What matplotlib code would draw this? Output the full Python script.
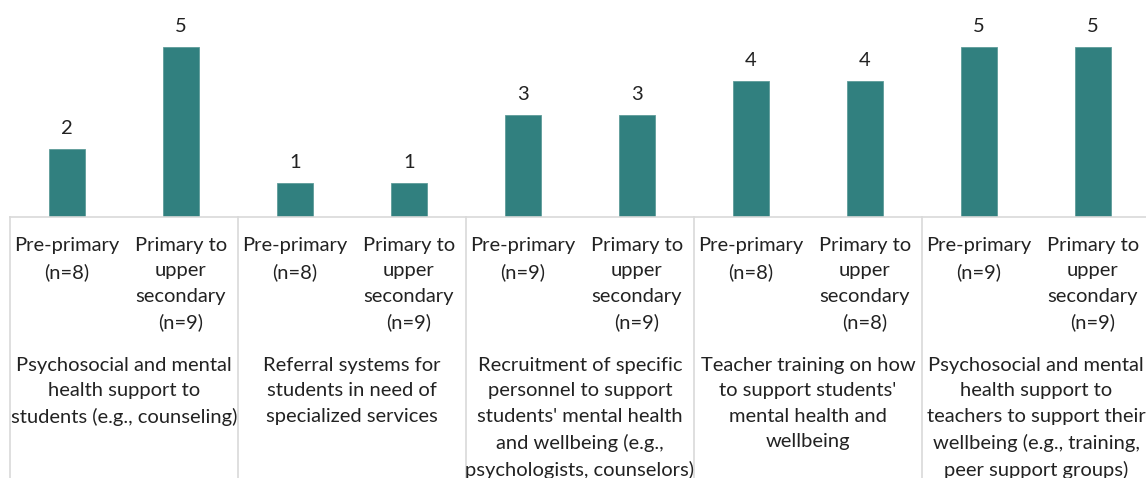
import matplotlib.pyplot as plt
from matplotlib import transforms

plt.rcParams["font.family"] = ["Lato", "DejaVu Sans"]

# categories and bar values
themes = [
    "Psychosocial and mental\nhealth support to\nstudents (e.g., counseling)",
    "Referral systems for\nstudents in need of\nspecialized services",
    "Recruitment of specific\npersonnel to support\nstudents' mental health\nand wellbeing (e.g.,\npsychologists, counselors)",
    "Teacher training on how\nto support students'\nmental health and\nwellbeing",
    "Psychosocial and mental\nhealth support to\nteachers to support their\nwellbeing (e.g., training,\npeer support groups)",
]
levels = [
    "Pre-primary\n(n=8)", "Primary to\nupper\nsecondary\n(n=9)",
    "Pre-primary\n(n=8)", "Primary to\nupper\nsecondary\n(n=9)",
    "Pre-primary\n(n=9)", "Primary to\nupper\nsecondary\n(n=9)",
    "Pre-primary\n(n=8)", "Primary to\nupper\nsecondary\n(n=8)",
    "Pre-primary\n(n=9)", "Primary to\nupper\nsecondary\n(n=9)",
]
values = [2, 5, 1, 1, 3, 3, 4, 4, 5, 5]

W, H = 1146, 478
fig = plt.figure(figsize=(W / 100, H / 100), dpi=100)

# axes placed in pixel terms: baseline at y=217, left edge at x=10
base_px = 217
top_px = 30
ax = fig.add_axes([10 / W, (H - base_px) / H, 1 - 10 / W, (base_px - top_px) / H])

x = list(range(len(values)))
bars = ax.bar(x, values, width=0.316, color="#31807F", edgecolor="#5E9C9A", linewidth=0.6)
ax.bar_label(bars, padding=9, fontsize=14.5, color="#222222")

ax.set_xlim(-0.5, (W - 10) / 114 - 0.5)
ax.set_ylim(0, 5.5)
ax.set_xticks([])
ax.set_yticks([])
for s in ["top", "right", "left"]:
    ax.spines[s].set_visible(False)
ax.spines["bottom"].set_color("#D9D9D9")
ax.spines["bottom"].set_linewidth(1.2)

# group separators running down through the label area
trans = transforms.blended_transform_factory(ax.transData, fig.transFigure)
for sx in [-0.5, 1.5, 3.5, 5.5, 7.5, 9.5]:
    ax.plot([sx, sx], [(H - base_px) / H, 0], transform=trans, color="#D9D9D9",
            linewidth=1.2, clip_on=False)

for i, lab in enumerate(levels):
    ax.text(i, (H - 237) / H, lab, transform=trans, ha="center", va="top",
            fontsize=14.5, linespacing=1.6, color="#222222")

for g, lab in enumerate(themes):
    ax.text(2 * g + 0.5, (H - 357) / H, lab, transform=trans, ha="center", va="top",
            fontsize=14.5, linespacing=1.6, color="#222222")

fig.savefig("out.png", dpi=100)
